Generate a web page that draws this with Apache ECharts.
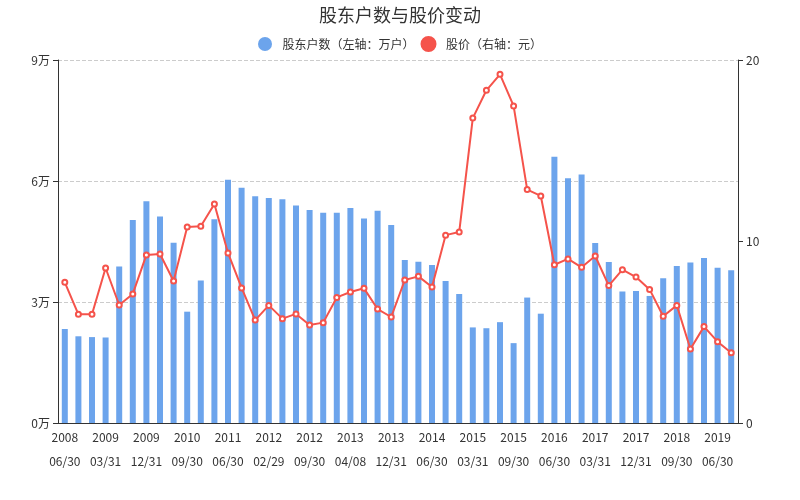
<!DOCTYPE html>
<html><head><meta charset="utf-8">
<script src="https://cdn.jsdelivr.net/npm/echarts@6/dist/echarts.min.js"></script>
<style>html,body{margin:0;padding:0;background:#fff}#c{width:800px;height:500px}</style>
</head><body><div id="c"></div>
<script>
var dates = ['2008-06-30','2008-09-30','2008-12-31','2009-03-31','2009-06-30','2009-09-30','2009-12-31','2010-03-31','2010-06-30','2010-09-30',
'2010-12-31','2011-03-31','2011-06-30','2011-09-30','2011-12-31','2012-02-29','2012-03-31','2012-06-30','2012-09-30','2012-12-31',
'2013-03-31','2013-04-08','2013-06-30','2013-09-30','2013-12-31','2014-02-28','2014-03-31','2014-06-30','2014-09-30','2014-12-31',
'2015-03-31','2015-06-30','2015-08-31','2015-09-30','2015-12-31','2016-03-31','2016-06-30','2016-09-30','2016-12-31','2017-03-31',
'2017-06-30','2017-09-30','2017-12-31','2018-03-31','2018-06-30','2018-09-30','2018-12-31','2019-03-31','2019-06-30','2019-09-30'];
var holders = [2.33,2.15,2.13,2.12,3.88,5.03,5.50,5.12,4.47,2.76,
3.53,5.05,6.03,5.83,5.62,5.58,5.55,5.39,5.28,5.21,
5.21,5.33,5.07,5.26,4.91,4.04,4.00,3.92,3.52,3.20,
2.37,2.35,2.50,1.98,3.11,2.71,6.60,6.07,6.16,4.46,
3.99,3.26,3.27,3.15,3.59,3.89,3.98,4.09,3.85,3.79];
var prices = [7.75,5.99,5.99,8.54,6.50,7.11,9.26,9.31,7.82,10.80,
10.84,12.07,9.37,7.44,5.67,6.48,5.75,6.01,5.40,5.53,
6.92,7.22,7.42,6.28,5.84,7.88,8.08,7.49,10.35,10.52,
16.80,18.33,19.21,17.47,12.86,12.51,8.72,9.04,8.58,9.20,
7.57,8.45,8.04,7.36,5.88,6.48,4.08,5.31,4.48,3.87];
var seriesNames = ['股东户数（左轴：万户）','股价（右轴：元）'];
var titleText = '股东户数与股价变动';

var font = 'Noto Sans CJK SC';
var chart = echarts.init(document.getElementById('c'));
chart.setOption({
  animation:false,
  textStyle:{fontFamily:font},
  title:{text:titleText,left:'center',top:1,textStyle:{fontSize:18,fontWeight:'normal',color:'#333',fontFamily:font}},
  legend:{top:31,left:'center',icon:'circle',itemWidth:25,itemHeight:14,itemGap:6,
    textStyle:{fontSize:12,color:'#333',fontFamily:font},data:seriesNames},
  grid:{left:58,right:62,top:60,bottom:77},
  xAxis:{type:'category',data:dates,boundaryGap:true,
    axisLine:{lineStyle:{color:'#333'}},
    axisTick:{alignWithLabel:true,interval:2,lineStyle:{color:'#333'}},
    axisLabel:{interval:2,color:'#333',fontSize:12,lineHeight:24,margin:2,
      formatter:function(v){var p=v.split('-');return p[0]+'\n'+p[1]+'/'+p[2];}}},
  yAxis:[
    {type:'value',min:0,max:9,interval:3,
     axisLine:{show:true,lineStyle:{color:'#333'}},axisTick:{show:true,lineStyle:{color:'#333'}},
     axisLabel:{formatter:'{value}万',color:'#333',fontSize:12},
     splitLine:{show:true,lineStyle:{type:'dashed',color:'#ccc'}}},
    {type:'value',min:0,max:20,interval:10,position:'right',
     axisLine:{show:true,lineStyle:{color:'#333'}},axisTick:{show:true,lineStyle:{color:'#333'}},
     axisLabel:{color:'#333',fontSize:12},splitLine:{show:false}}
  ],
  series:[
    {name:seriesNames[0],type:'bar',data:holders,yAxisIndex:0,barWidth:6,
     itemStyle:{color:'#6ca4ec'}},
    {name:seriesNames[1],type:'line',data:prices,yAxisIndex:1,symbol:'emptyCircle',symbolSize:5,
     lineStyle:{color:'#f5534b',width:2},itemStyle:{color:'#f5534b',borderColor:'#f5534b',borderWidth:1.2}}
  ]
});
</script></body></html>
